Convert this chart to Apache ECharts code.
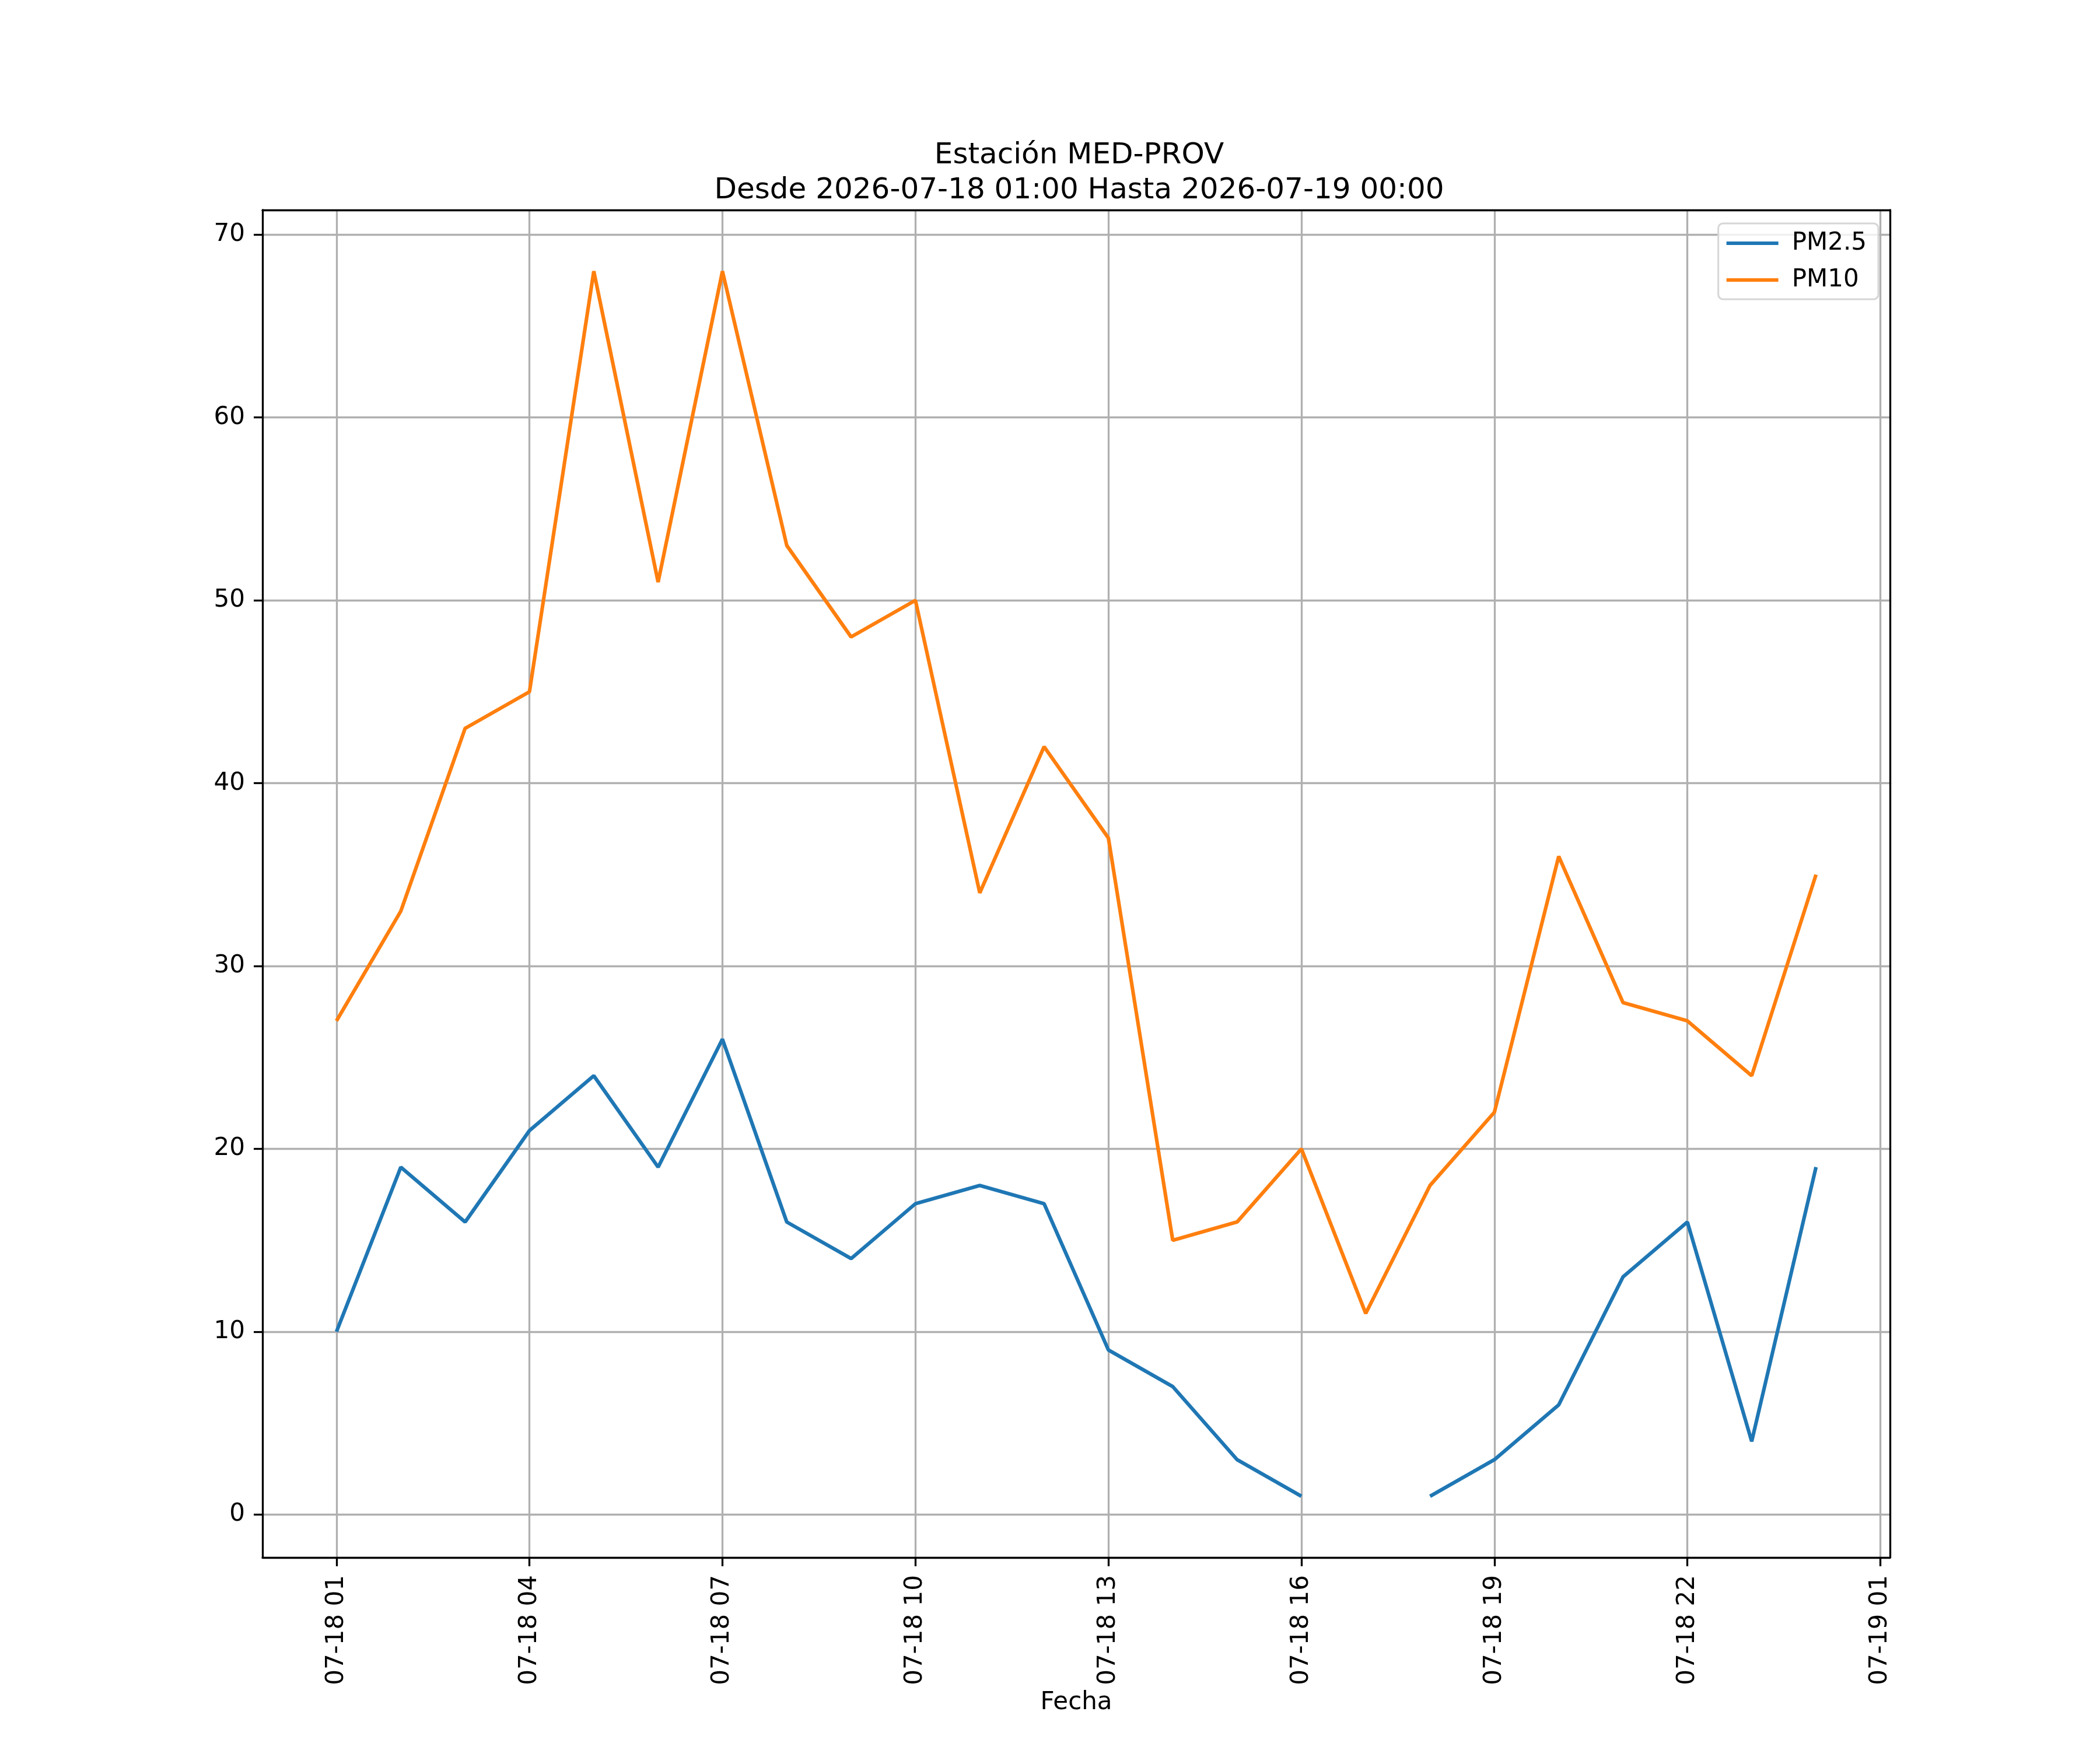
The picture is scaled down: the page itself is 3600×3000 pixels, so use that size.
<!DOCTYPE html>
<html lang="es">
<head>
    <meta charset="UTF-8">
    <title>Estación MED-PROV</title>
    <script src="https://cdn.jsdelivr.net/npm/echarts@6/dist/echarts.min.js"></script>
    <style>
        html, body { margin: 0; padding: 0; background: #ffffff; }
        #chart { width: 3600px; height: 3000px; }
    </style>
</head>
<body>
<div id="chart"></div>
<script>
    // horas desde 2026-07-18 00:00
    var horas = [1, 2, 3, 4, 5, 6, 7, 8, 9, 10, 11, 12, 13, 14, 15, 16, 17, 18, 19, 20, 21, 22, 23, 24];
    var pm25 = [10, 19, 16, 21, 24, 19, 26, 16, 14, 17, 18, 17, 9, 7, 3, 1, null, 1, 3, 6, 13, 16, 4, 19];
    var pm10 = [27, 33, 43, 45, 68, 51, 68, 53, 48, 50, 34, 42, 37, 15, 16, 20, 11, 18, 22, 36, 28, 27, 24, 35];

    var xTicks = [1, 4, 7, 10, 13, 16, 19, 22, 25];
    var xTickLabels = ['07-18 01', '07-18 04', '07-18 07', '07-18 10', '07-18 13',
        '07-18 16', '07-18 19', '07-18 22', '07-19 01'];
    var yTicks = [0, 10, 20, 30, 40, 50, 60, 70];

    function pares(ys) {
        return horas.map(function (h, i) { return [h, ys[i]]; });
    }

    var fuente = 'DejaVu Sans';
    var negro = { color: '#000000', width: 3.3 };
    var chart = echarts.init(document.getElementById('chart'), null, { renderer: 'canvas' });

    chart.setOption({
        animation: false,
        backgroundColor: '#ffffff',
        textStyle: { fontFamily: fuente },
        title: {
            text: 'Estación MED-PROV\nDesde 2026-07-18 01:00 Hasta 2026-07-19 00:00',
            left: 1845,
            top: 232,
            textAlign: 'center',
            textStyle: {
                fontFamily: fuente,
                fontSize: 50,
                fontWeight: 'normal',
                color: '#000000',
                lineHeight: 60
            }
        },
        legend: {
            right: 380,
            top: 383,
            orient: 'vertical',
            icon: 'rect',
            itemWidth: 89,
            itemHeight: 6,
            itemGap: 21,
            padding: [13, 20, 12, 14],
            backgroundColor: 'rgba(255,255,255,0.8)',
            borderColor: '#d6d6d6',
            borderWidth: 3,
            borderRadius: 8,
            textStyle: {
                fontFamily: fuente,
                fontSize: 42,
                color: '#000000',
                lineHeight: 42,
                padding: [0, 0, 0, 18]
            },
            data: ['PM2.5', 'PM10']
        },
        grid: {
            left: 450,
            right: 360,
            top: 360,
            bottom: 330,
            containLabel: false
        },
        xAxis: [{
            type: 'value',
            min: -0.15,
            max: 25.15,
            name: 'Fecha',
            nameLocation: 'middle',
            nameGap: 228,
            nameTextStyle: { fontFamily: fuente, fontSize: 42, color: '#000000' },
            axisLine: { show: true, onZero: false, lineStyle: negro },
            axisTick: { show: true, length: 15, lineStyle: negro, customValues: xTicks },
            axisLabel: {
                show: true,
                rotate: 90,
                margin: 30,
                fontFamily: fuente,
                fontSize: 42,
                color: '#000000',
                customValues: xTicks,
                formatter: function (v) {
                    var i = xTicks.indexOf(Math.round(v));
                    return i >= 0 ? xTickLabels[i] : '';
                }
            },
            splitLine: { show: true, lineStyle: { color: '#b0b0b0', width: 3.3 }, customValues: xTicks }
        }, {
            // borde superior
            type: 'value',
            position: 'top',
            min: -0.15,
            max: 25.15,
            z: 5,
            axisLine: { show: true, onZero: false, lineStyle: negro },
            axisTick: { show: false },
            axisLabel: { show: false },
            splitLine: { show: false }
        }],
        yAxis: [{
            type: 'value',
            min: -2.35,
            max: 71.35,
            axisLine: { show: true, onZero: false, lineStyle: negro },
            axisTick: { show: true, length: 15, lineStyle: negro, customValues: yTicks },
            axisLabel: {
                show: true,
                margin: 30,
                fontFamily: fuente,
                fontSize: 42,
                color: '#000000',
                customValues: yTicks
            },
            splitLine: { show: true, lineStyle: { color: '#b0b0b0', width: 3.3 }, customValues: yTicks }
        }, {
            // borde derecho
            type: 'value',
            position: 'right',
            min: -2.35,
            max: 71.35,
            z: 5,
            axisLine: { show: true, onZero: false, lineStyle: negro },
            axisTick: { show: false },
            axisLabel: { show: false },
            splitLine: { show: false }
        }],
        series: [{
            name: 'PM2.5',
            type: 'line',
            data: pares(pm25),
            showSymbol: false,
            connectNulls: false,
            color: '#1f77b4',
            lineStyle: { width: 6.2, color: '#1f77b4' },
            z: 3
        }, {
            name: 'PM10',
            type: 'line',
            data: pares(pm10),
            showSymbol: false,
            connectNulls: false,
            color: '#ff7f0e',
            lineStyle: { width: 6.2, color: '#ff7f0e' },
            z: 3
        }]
    });
</script>
</body>
</html>
